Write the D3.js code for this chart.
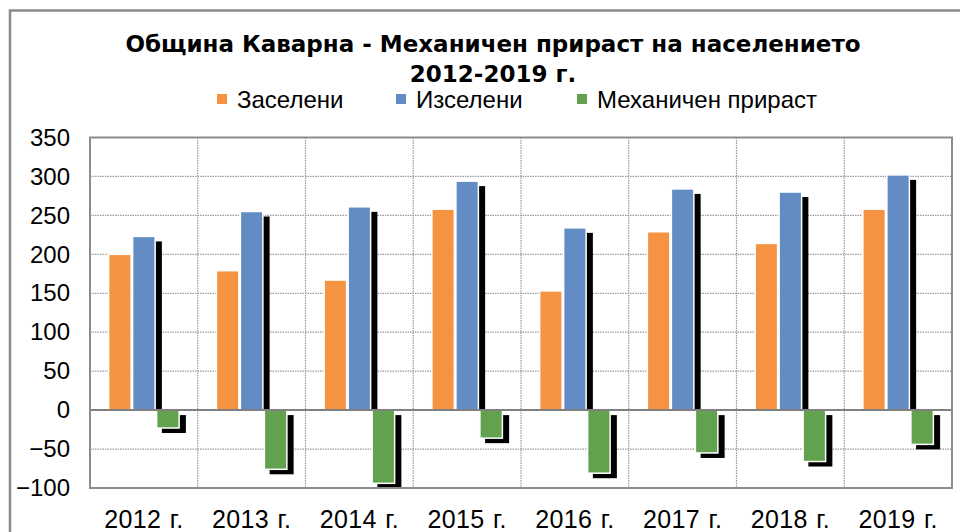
<!DOCTYPE html>
<html>
<head>
<meta charset="utf-8">
<script src="https://cdn.jsdelivr.net/npm/d3@7"></script>
<style>
  body { margin: 0; background: #fff; }
  svg { display: block; }
</style>
</head>
<body>
<svg id="chart" width="960" height="532"></svg>
<script>
// Data
const years = ["2012 г.", "2013 г.", "2014 г.", "2015 г.", "2016 г.", "2017 г.", "2018 г.", "2019 г."];
const seriesNames = ["Заселени", "Изселени", "Механичен прираст"];
const settled = [200, 179, 167, 258, 153, 229, 214, 258];
const emigrated = [223, 255, 261, 294, 234, 284, 280, 302];
const netGrowth = [-23, -76, -94, -36, -81, -55, -66, -44];
const yTicks = [-100, -50, 0, 50, 100, 150, 200, 250, 300, 350];

const colors = ["#F59342", "#628CC3", "#62A24F"];
const seriesValues = [settled, emigrated, netGrowth];

let svg = d3.select("svg#chart");
let width = 960;
let height = 532;
let margin = { "top": 137.5, "right": 8, "bottom": 44, "left": 90 };
let chartWidth = width - margin.left - margin.right;
let chartHeight = height - margin.top - margin.bottom;

// outer frame (right/bottom edges fall outside the picture)
svg.append("rect")
  .attr("x", 10).attr("y", 10.5)
  .attr("width", 980).attr("height", 560)
  .attr("fill", "none")
  .attr("stroke", "#8a8a8a")
  .attr("stroke-width", 2.5);

// Scales
const x0 = d3.scaleBand()
  .domain(years)
  .range([0, chartWidth])
  .padding(0);

const groupWidth = 72;
const x1 = d3.scaleBand()
  .domain(seriesNames)
  .range([(x0.bandwidth() - groupWidth) / 2, (x0.bandwidth() + groupWidth) / 2])
  .padding(0);

const y = d3.scaleLinear()
  .domain([-100, 350])
  .range([chartHeight, 0]);

let g = svg.append("g")
  .attr("transform", "translate(" + margin.left + "," + margin.top + ")");

// Gridlines
g.append("g")
  .selectAll("line")
  .data(yTicks.filter(d => d !== 0 && d !== -100 && d !== 350))
  .join("line")
  .attr("x1", 0).attr("x2", chartWidth)
  .attr("y1", d => y(d)).attr("y2", d => y(d))
  .attr("stroke", "#9a9a9a")
  .attr("stroke-width", 1.2)
  .attr("stroke-dasharray", "1.5,1");

g.append("g")
  .selectAll("line")
  .data(years.slice(1))
  .join("line")
  .attr("x1", d => x0(d)).attr("x2", d => x0(d))
  .attr("y1", 0).attr("y2", chartHeight)
  .attr("stroke", "#9a9a9a")
  .attr("stroke-width", 1.2)
  .attr("stroke-dasharray", "1.5,1");

// Bars with shadows
const shadowDx = 6;
const shadowDy = 5;

seriesValues.forEach((vals, s) => {
  let name = seriesNames[s];
  let grp = g.append("g");

  if (s > 0) {
    grp.selectAll("rect.shadow")
      .data(vals)
      .join("rect")
      .attr("class", "shadow")
      .attr("x", (d, i) => x0(years[i]) + x1(name) + shadowDx)
      .attr("y", d => d >= 0 ? y(d) + shadowDy : y(0) + shadowDy)
      .attr("width", x1.bandwidth())
      .attr("height", d => d >= 0 ? y(0) - y(d) - shadowDy : y(d) - y(0))
      .attr("fill", "#000");
  }

  grp.selectAll("rect.bar")
    .data(vals)
    .join("rect")
    .attr("class", "bar")
    .attr("x", (d, i) => x0(years[i]) + x1(name) + 0.75)
    .attr("y", d => Math.min(y(d), y(0)))
    .attr("width", x1.bandwidth() - 1.5)
    .attr("height", d => Math.abs(y(d) - y(0)))
    .attr("fill", colors[s])
    .attr("stroke", "#ffffff")
    .attr("stroke-width", 1.5);
});

// Zero line
g.append("line")
  .attr("x1", 0).attr("x2", chartWidth)
  .attr("y1", y(0)).attr("y2", y(0))
  .attr("stroke", "#808080")
  .attr("stroke-width", 2);

// Plot border
g.append("rect")
  .attr("x", 0).attr("y", 0)
  .attr("width", chartWidth).attr("height", chartHeight)
  .attr("fill", "none")
  .attr("stroke", "#8c8c8c")
  .attr("stroke-width", 2);

// Axes
let leftAxis = d3.axisLeft(y).tickValues(yTicks).tickSize(0).tickPadding(20);
g.append("g")
  .call(leftAxis)
  .call(a => a.select(".domain").remove())
  .selectAll("text")
  .attr("font-family", "'Liberation Sans', Arial, sans-serif")
  .attr("font-size", "24px")
  .attr("fill", "#000");

let bottomAxis = d3.axisBottom(x0).tickSize(0).tickPadding(0);
g.append("g")
  .attr("transform", "translate(0," + chartHeight + ")")
  .call(bottomAxis)
  .call(a => a.select(".domain").remove())
  .selectAll("text")
  .attr("dy", null)
  .attr("y", 40)
  .attr("font-family", "'Liberation Sans', Arial, sans-serif")
  .attr("font-size", "25px")
  .attr("word-spacing", "1px")
  .attr("letter-spacing", "0.4px")
  .attr("fill", "#000");

// Title
const titleLines = ["Община Каварна - Механичен прираст на населението", "2012-2019 г."];
svg.append("g")
  .selectAll("text")
  .data(titleLines)
  .join("text")
  .attr("x", 493)
  .attr("y", (d, i) => 52 + i * 30)
  .attr("text-anchor", "middle")
  .attr("font-family", "'DejaVu Sans', Verdana, sans-serif")
  .attr("font-weight", "bold")
  .attr("font-size", "23px")
  .text(d => d);

// Legend
const legendX = [217, 396, 577];
let legend = svg.append("g");
seriesNames.forEach((n, i) => {
  legend.append("rect")
    .attr("x", legendX[i]).attr("y", 94)
    .attr("width", 10).attr("height", 10)
    .attr("fill", colors[i]);
  legend.append("text")
    .attr("x", legendX[i] + 20)
    .attr("y", 108)
    .attr("font-family", "'Liberation Sans', Arial, sans-serif")
    .attr("font-size", "24px")
    .text(n);
});
</script>
</body>
</html>
